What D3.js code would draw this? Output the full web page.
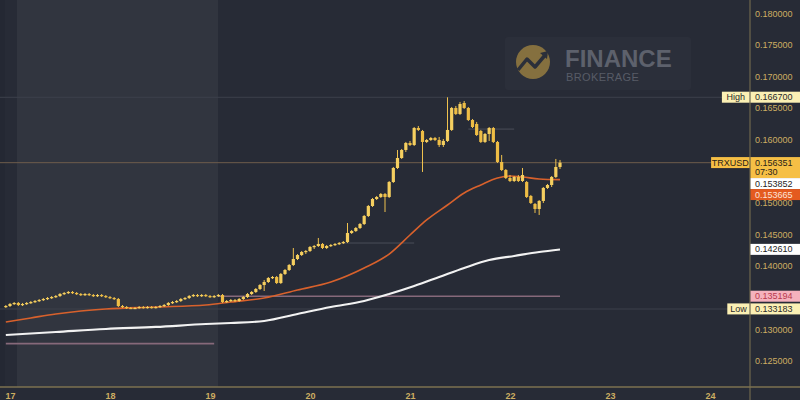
<!DOCTYPE html>
<html><head><meta charset="utf-8">
<script src="https://cdn.jsdelivr.net/npm/d3@7/dist/d3.min.js"></script>
<style>html,body{margin:0;padding:0;background:#272b36;overflow:hidden}</style>
</head><body><svg id="c" width="800" height="400"></svg>
<script>
// ---------------- data ----------------
const dayTicks = [17,18,19,20,21,22,23,24];
const yTicks = [0.125,0.130,0.135,0.140,0.145,0.150,0.155,0.160,0.165,0.170,0.175,0.180];
// hourly candles, first one at day 16 23:00
const open = [.13350,.13366,.13398,.13414,.13382,.13398,.13414,.13429,.13445,.13461,.13477,.13493,.13508,.13524,.13556,.13572,.13588,.13572,.13556,.13540,
.13556,.13540,.13524,.13540,.13524,.13508,.13493,.13477,.13366,.13350,.13335,.13319,.13335,.13350,.13335,.13350,.13335,.13350,.13366,.13382,
.13414,.13429,.13445,.13477,.13493,.13524,.13540,.13524,.13540,.13524,.13508,.13524,.13540,.13429,.13445,.13461,.13445,.13477,.13508,.13556,
.13588,.13635,.13698,.13746,.13809,.13825,.13730,.13873,.13936,.14015,.14110,.14173,.14221,.14237,.14300,.14316,.14348,.14284,.14316,.14332,
.14348,.14363,.14379,.14522,.14553,.14601,.14664,.14791,.14949,.15060,.15092,.15139,.15092,.15329,.15551,.15709,.15836,.15947,.15915,.16184,
.16137,.15963,.15994,.16026,.15994,.15915,.15979,.16153,.16501,.16406,.16580,.16501,.16311,.16248,.16137,.15963,.16089,.16184,.15963,.15646,
.15519,.15393,.15345,.15409,.15345,.15329,.15108,.14981,.14902,.15029,.15235,.15282,.15409,.15567];
const high = [.13382,.13414,.13429,.13429,.13414,.13429,.13445,.13461,.13477,.13493,.13508,.13524,.13540,.13572,.13588,.13603,.13603,.13588,.13572,.13572,
.13572,.13556,.13556,.13556,.13540,.13524,.13508,.13493,.13382,.13366,.13350,.13350,.13366,.13366,.13366,.13366,.13366,.13382,.13398,.13429,
.13445,.13461,.13493,.13508,.13540,.13556,.13556,.13556,.13556,.13540,.13540,.13556,.13556,.13461,.13477,.13477,.13493,.13524,.13572,.13603,
.13651,.13714,.13778,.13825,.13841,.13841,.13888,.13952,.14031,.14284,.14189,.14237,.14253,.14316,.14332,.14443,.14363,.14332,.14348,.14363,
.14379,.14395,.14680,.14569,.14617,.14680,.14807,.14965,.15076,.15108,.15155,.15155,.15345,.15567,.15836,.15852,.15963,.15979,.16200,.16216,
.16153,.16010,.16042,.16042,.16042,.16010,.16670,.16517,.16533,.16596,.16612,.16517,.16327,.16280,.16153,.16105,.16200,.16200,.15979,.15757,
.15535,.15440,.15424,.15440,.15551,.15345,.15124,.14997,.15044,.15250,.15298,.15424,.15694,.15678];
const low = [.13335,.13350,.13382,.13366,.13366,.13382,.13398,.13414,.13429,.13445,.13461,.13477,.13493,.13508,.13540,.13556,.13556,.13540,.13524,.13524,
.13524,.13508,.13508,.13508,.13493,.13477,.13461,.13350,.13335,.13319,.13320,.13318,.13322,.13324,.13325,.13325,.13326,.13335,.13350,.13366,
.13398,.13414,.13429,.13461,.13477,.13508,.13508,.13508,.13508,.13493,.13493,.13508,.13414,.13414,.13429,.13429,.13429,.13461,.13493,.13540,
.13572,.13619,.13603,.13730,.13793,.13714,.13714,.13857,.13920,.13999,.14094,.14158,.14189,.14221,.14268,.14300,.14268,.14268,.14300,.14316,
.14332,.14348,.14363,.14506,.14538,.14585,.14648,.14775,.14934,.15044,.15076,.14854,.15076,.15314,.15535,.15694,.15804,.15899,.15899,.16137,
.15488,.15947,.15979,.15979,.15884,.15884,.15963,.16137,.16390,.16390,.16485,.16295,.16184,.16058,.15947,.15947,.15979,.15947,.15630,.15504,
.15377,.15329,.15329,.15329,.15329,.15076,.14981,.14839,.14807,.14997,.15219,.15250,.15393,.15535];
const close = [.13366,.13398,.13414,.13382,.13398,.13414,.13429,.13445,.13461,.13477,.13493,.13508,.13524,.13556,.13572,.13588,.13572,.13556,.13540,.13556,
.13540,.13524,.13540,.13524,.13508,.13493,.13477,.13366,.13350,.13335,.13319,.13335,.13350,.13335,.13350,.13335,.13350,.13366,.13382,.13414,
.13429,.13445,.13477,.13493,.13524,.13540,.13524,.13540,.13524,.13508,.13524,.13540,.13429,.13445,.13461,.13445,.13477,.13508,.13556,.13588,
.13635,.13698,.13746,.13809,.13825,.13730,.13873,.13936,.14015,.14110,.14173,.14221,.14237,.14300,.14316,.14348,.14284,.14316,.14332,.14348,
.14363,.14379,.14522,.14553,.14601,.14664,.14791,.14949,.15060,.15092,.15139,.15092,.15329,.15551,.15709,.15836,.15947,.15915,.16184,.16153,
.15963,.15994,.16026,.15994,.15915,.15979,.16153,.16501,.16406,.16564,.16501,.16311,.16200,.16073,.15963,.16089,.16184,.15963,.15646,.15519,
.15393,.15345,.15409,.15345,.15440,.15092,.14997,.14902,.15029,.15235,.15282,.15409,.15567,.156351];
// moving averages read at sampled candle indexes
const maFastIdx = [0,6,12,18,24,36,48,54,62,70,78,86,92,97,101,106,110,114,118,121,124,128,133];
const maFastVal = [.13113,.13177,.13240,.13287,.13319,.13350,.13382,.13429,.13493,.13619,.13746,.13968,.14189,.14490,.14728,.14965,.15155,.15282,.15393,.15424,.15409,.15377,.153665];
const maSlowIdx = [0,12,24,36,48,54,62,70,78,86,92,98,104,110,116,122,128,133];
const maSlowVal = [.12907,.12954,.13002,.13034,.13081,.13097,.13129,.13240,.13350,.13445,.13556,.13683,.13825,.13968,.14094,.14158,.14221,.14261];
// horizontal levels: [price, fromIndex, toIndex]
const levelPink = [[0.135194, 51, 133],[0.12770, 0, 50]];
const levelGrey = [[0.16167, 111, 122],[0.14363, 80, 98]];
// right-scale labels
const labelNames  = ["High","TRXUSD","","","","","Low"];
const labelValues = [0.1667,0.156351,0.153852,0.153665,0.142610,0.135194,0.133183];
const labelExtra  = ["","07:30","","","","",""];
const labelKinds  = ["hl","price","white","orange","white","pink","hl"];

// ---------------- drawing ----------------
const svg = d3.select("#c");
const HOUR = 3600e3;
const t0 = Date.UTC(2021,0,16,23);
const x = d3.scaleUtc().domain([new Date(Date.UTC(2021,0,17)), new Date(Date.UTC(2021,0,24))]).range([10,710]);
const y = d3.scaleLinear().domain([0.125,0.180]).range([360.7,13.3]);
const xi = i => x(new Date(t0 + i*HOUR));
const axisY = 387, axisX = 750;

svg.append("rect").attr("width",800).attr("height",400).attr("fill","#272b36");
svg.append("rect").attr("x",17).attr("y",0).attr("width",201).attr("height",axisY).attr("fill","#31353f");
svg.append("rect").attr("x",0).attr("y",0).attr("width",5).attr("height",axisY).attr("fill","#242833");

// watermark
const wm = svg.append("g");
wm.append("rect").attr("x",505).attr("y",37).attr("width",186).attr("height",53).attr("rx",3).attr("fill","#2b2f3a");
wm.append("circle").attr("cx",533).attr("cy",62).attr("r",17).attr("fill","#85703f");
wm.append("path").attr("d","M518,70 L527,59 L535,67 L546,54").attr("fill","none").attr("stroke","#2b2f3a").attr("stroke-width",3.5).attr("stroke-linejoin","round");
wm.append("path").attr("d","M540,53 L548,51 L547,59 Z").attr("fill","#2b2f3a");
wm.append("text").attr("x",565).attr("y",67).attr("font-family","Liberation Sans, Arial, sans-serif").attr("font-weight","bold").attr("font-size",24).attr("fill","#5d616c").text("FINANCE");
wm.append("text").attr("x",566).attr("y",81).attr("font-family","Liberation Sans, Arial, sans-serif").attr("font-size",11).attr("letter-spacing",0.4).attr("fill","#585c67").text("BROKERAGE");

// faint lines for high/low and current price
svg.append("line").attr("x1",0).attr("x2",axisX).attr("y1",y(labelValues[0])).attr("y2",y(labelValues[0])).attr("stroke","#3c404b").attr("stroke-width",1);
svg.append("line").attr("x1",0).attr("x2",axisX).attr("y1",y(labelValues[6])).attr("y2",y(labelValues[6])).attr("stroke","#3c404b").attr("stroke-width",1);
svg.append("line").attr("x1",0).attr("x2",axisX).attr("y1",y(labelValues[1])).attr("y2",y(labelValues[1])).attr("stroke","#6e5c4c").attr("stroke-width",1);

levelGrey.forEach(l=>svg.append("line").attr("x1",xi(l[1])).attr("x2",xi(l[2])).attr("y1",y(l[0])).attr("y2",y(l[0])).attr("stroke","#4a4d58").attr("stroke-width",1));
levelPink.forEach(l=>svg.append("line").attr("x1",xi(l[1])).attr("x2",xi(l[2])).attr("y1",y(l[0])).attr("y2",y(l[0])).attr("stroke","#86697a").attr("stroke-width",1.6));

// moving averages
const lineGen = d3.line().x(d=>xi(d[0])).y(d=>y(d[1])).curve(d3.curveMonotoneX);
svg.append("path").attr("d",lineGen(maSlowIdx.map((d,i)=>[d,maSlowVal[i]]))).attr("fill","none").attr("stroke","#f2f2f2").attr("stroke-width",2.2);
svg.append("path").attr("d",lineGen(maFastIdx.map((d,i)=>[d,maFastVal[i]]))).attr("fill","none").attr("stroke","#d8612c").attr("stroke-width",1.6);

// candles
const idx = d3.range(close.length);
const cg = svg.append("g");
cg.selectAll("line").data(idx).join("line")
  .attr("x1",i=>xi(i)).attr("x2",i=>xi(i)).attr("y1",i=>y(high[i])).attr("y2",i=>y(low[i]))
  .attr("stroke","#efc24e").attr("stroke-width",1);
cg.selectAll("rect").data(idx).join("rect")
  .attr("x",i=>xi(i)-1.6).attr("width",3.2)
  .attr("y",i=>y(Math.max(open[i],close[i])))
  .attr("height",i=>Math.max(1.2, Math.abs(y(open[i])-y(close[i]))))
  .attr("fill",i=>close[i]>=open[i] ? "#f5cf60" : "#eebd45");

// price labels positions (stacked to avoid overlap)
const fontFam = "Liberation Sans, Arial, sans-serif";
const styles = {
  hl:{bg:"#fbf0b4",fg:"#2a2a2a"},
  price:{bg:"#f6bf45",fg:"#2a2418"},
  white:{bg:"#ffffff",fg:"#1e1e1e"},
  orange:{bg:"#e45a1f",fg:"#fde3d8"},
  pink:{bg:"#f5b2bd",fg:"#b83a4e"}
};
let prevBottom = -Infinity;
const order = d3.range(labelValues.length).sort((a,b)=>y(labelValues[a])-y(labelValues[b]));
const boxes = [];
order.forEach(k=>{
  const h = labelExtra[k] ? 21 : 11;
  const top = Math.max(y(labelValues[k]) - 5.6, prevBottom);
  prevBottom = top + h;
  boxes.push({k, top, h});
});

// axes
const gy = svg.append("g").attr("transform",`translate(${axisX},0)`)
  .call(d3.axisRight(y).tickValues(yTicks).tickFormat(d3.format(".6f")).tickSize(0).tickPadding(5));
gy.select(".domain").remove();
gy.selectAll("text").attr("fill","#cdae62").attr("font-size",9).attr("font-family",fontFam);
// tick labels whose centre lies under a price label are hidden, as on the reference
gy.selectAll(".tick").filter(d=>boxes.some(b=>y(d)>=b.top-1 && y(d)<=b.top+b.h+1)).remove();

const gx = svg.append("g").attr("transform",`translate(0,${axisY})`)
  .call(d3.axisBottom(x).tickValues(dayTicks.map(d=>new Date(Date.UTC(2021,0,d)))).tickFormat(d3.utcFormat("%-d")).tickSize(0).tickPadding(6));
gx.select(".domain").remove();
gx.selectAll("text").attr("fill","#cdae62").attr("font-size",9).attr("font-weight","bold").attr("font-family",fontFam);

svg.append("line").attr("x1",0).attr("x2",800).attr("y1",axisY).attr("y2",axisY).attr("stroke","#7d7250").attr("stroke-width",1.5);
svg.append("line").attr("x1",axisX).attr("x2",axisX).attr("y1",0).attr("y2",400).attr("stroke","#7d7250").attr("stroke-width",1);

const lg = svg.append("g").attr("font-family",fontFam).attr("font-size",9);
boxes.forEach(({k, top, h})=>{
  const st = styles[labelKinds[k]];
  lg.append("rect").attr("x",axisX+0.5).attr("y",top).attr("width",50).attr("height",h).attr("fill",st.bg);
  lg.append("text").attr("x",axisX+5).attr("y",top+8.5).attr("fill",st.fg).text(d3.format(".6f")(labelValues[k]));
  if (labelExtra[k]) lg.append("text").attr("x",axisX+5).attr("y",top+18).attr("fill",st.fg).text(labelExtra[k]);
  if (labelNames[k]) {
    const tw = labelNames[k].length*5.4 + 6;
    lg.append("rect").attr("x",axisX-0.5-tw).attr("y",top).attr("width",tw).attr("height",11).attr("fill",st.bg);
    lg.append("text").attr("x",axisX-0.5-tw/2).attr("y",top+8.5).attr("text-anchor","middle").attr("fill",st.fg).text(labelNames[k]);
  }
});
</script></body></html>
